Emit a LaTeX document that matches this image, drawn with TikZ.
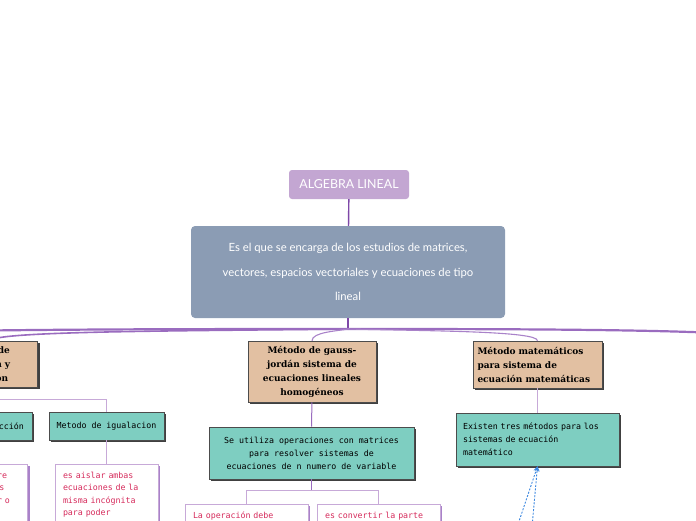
\documentclass[tikz,border=0pt]{standalone}
\usepackage{fontspec}
\setmainfont{Lato}
\newfontfamily\topicfont{DejaVu Serif}
\newfontfamily\pixfont{DejaVu Sans Mono}
\usepackage{xcolor}
\usepackage{tikz}
\usetikzlibrary{arrows.meta, positioning, shadows}
\definecolor{rootlilac}{HTML}{C3A6D2}
\definecolor{centralslate}{HTML}{8B9CB4}
\definecolor{topicpeach}{HTML}{E2C0A2}
\definecolor{subteal}{HTML}{7ECEC1}
\definecolor{branchpurple}{HTML}{9A6CBF}
\definecolor{trunkpurple}{HTML}{7E48A8}
\definecolor{linklilac}{HTML}{C7A9D8}
\definecolor{notered}{HTML}{D62B5C}
\definecolor{relblue}{HTML}{3A86DF}
\tikzstyle{root} = [rectangle, rounded corners=3pt, fill=rootlilac, text=white, minimum width=120pt, minimum height=29pt, font=\fontsize{12.4}{14}\selectfont]
\tikzstyle{central} = [rectangle, rounded corners=4pt, fill=centralslate, text=white, align=center, minimum width=314pt, minimum height=92pt, font=\fontsize{11.3}{24.5}\selectfont]
\tikzstyle{topic} = [rectangle, draw=black!70, line width=0.6pt, fill=topicpeach, drop shadow={shadow xshift=1.8pt, shadow yshift=-1.8pt, fill=black!75, opacity=1}, font=\topicfont\bfseries\fontsize{9}{14}\selectfont]
\tikzstyle{subtopic} = [rectangle, draw=black!70, line width=0.6pt, fill=subteal, drop shadow={shadow xshift=1.8pt, shadow yshift=-1.8pt, fill=black!75, opacity=1}, font=\pixfont\fontsize{8.3}{13}\selectfont]
\tikzstyle{note} = [rectangle, draw=linklilac, line width=0.8pt, fill=white, text=notered, align=left, inner xsep=8pt, inner ysep=7.5pt, text depth=45pt, drop shadow={shadow xshift=2pt, shadow yshift=-2pt, fill=branchpurple!85, opacity=1}, font=\pixfont\fontsize{8.3}{12.5}\selectfont]
\tikzstyle{trunk} = [draw=trunkpurple, line width=1.4pt]
\tikzstyle{branch} = [draw=branchpurple, line width=2.2pt]
\tikzstyle{twig} = [draw=branchpurple!85, line width=1.1pt]
\tikzstyle{link} = [draw=linklilac, line width=1pt]
\tikzstyle{relation} = [draw=relblue, line width=0.9pt, dash pattern=on 2pt off 1.5pt, -{Stealth[length=5pt, width=5pt]}]

\begin{document}
\begin{tikzpicture}[x=1pt, y=-1pt]

\useasboundingbox (0,0) rectangle (696,520);
\clip (0,0) rectangle (696,520);

% ===== ROOT =====
\node (algebra) [root] at (349, 184.5) {ALGEBRA LINEAL};
\node (desc) [central] at (348, 272) {Es el que se encarga de los estudios de matrices,\\vectores, espacios vectoriales y ecuaciones de tipo\\lineal};
\coordinate (hub) at (348, 329);

% ===== TOPICS =====
\node (lefttopic) [topic, anchor=north east, text width=78pt, inner xsep=8pt, minimum height=46pt, align=left] at (38, 341) {Métodos de\\reducción y\\sustitución};
\node (gauss) [topic, align=center, minimum width=128pt, minimum height=61pt] at (312, 371.5) {Método de gauss-\\jordán sistema de\\ecuaciones lineales\\homogéneos};
\node (matem) [topic, align=left, text width=120pt, inner xsep=4.5pt, minimum height=47pt] at (537.5, 364.5) {Método matemáticos\\para sistema de\\ecuación matemáticas};
\coordinate (farleft) at (-220, 341);
\coordinate (farright) at (780, 341);

% ===== SUBTOPICS =====
\node (reduccion) [subtopic, minimum width=111pt, minimum height=28pt] at (-23.5, 426) {Metodo de reducción};
\node (igualacion) [subtopic, minimum width=115pt, minimum height=28pt] at (106.5, 426) {Metodo de igualacion};
\node (gausstext) [subtopic, align=center, minimum width=205pt, minimum height=52pt] at (311.5, 453) {Se utiliza operaciones con matrices\\para resolver sistemas de\\ecuaciones de n numero de variable};
\node (existen) [subtopic, align=left, text width=149pt, inner xsep=7pt, minimum height=53pt] at (537.5, 439.5) {Existen tres métodos para los\\sistemas de ecuación\\matemático};

% ===== NOTES =====
\node (reducnote) [note, anchor=north east, text width=83pt] at (28, 464) {se suma siempre\\las incógnitas\\y luego restar o};
\node (aislar) [note, anchor=north, text width=87pt] at (106.5, 464) {es aislar ambas\\ecuaciones de la\\misma incógnita\\para poder};
\node (operacion) [note, anchor=north, text width=107pt] at (246.5, 504) {La operación debe};
\node (convertir) [note, anchor=north, text width=107pt] at (378.5, 504) {es convertir la parte};
\coordinate (relsrcA) at (506, 560);
\coordinate (relsrcB) at (529, 560);

% ===== CONNECTORS =====
\draw [trunk] (algebra) -- (desc);
\draw [trunk, line width=2pt] (desc.south) -- (hub);
\draw [branch] (hub) .. controls (150, 329) and (-220, 329) .. (farleft);
\draw [branch, line width=1.6pt] (hub) .. controls (180, 331) and (-10, 331) .. (lefttopic.north);
\draw [branch] (hub) .. controls (520, 329) and (780, 329) .. (farright);
\draw [twig] (hub) .. controls (338, 331) and (312, 332) .. (gauss.north);
\draw [twig] (hub) .. controls (430, 331) and (537.5, 331) .. (matem.north);

% topics to subtopics
\draw [link] (lefttopic.south) -- ++(0, 12) -| (igualacion.north);
\draw [link] (lefttopic.south) -- ++(0, 12) -| (reduccion.north);
\draw [link, draw=branchpurple] (gauss) -- (gausstext);
\draw [link] (matem) -- (existen);

% subtopics to notes
\draw [link] (reduccion.south) -- (reduccion.south |- reducnote.north);
\draw [link] (igualacion) -- (aislar);
\draw [link, draw=branchpurple] (gausstext.south) -- ++(0, 11) coordinate (split);
\draw [link] (split) -| (operacion.north);
\draw [link] (split) -| (convertir.north);

% relations
\draw [relation] (relsrcA) -- (existen.south);
\draw [relation] (relsrcB) -- (existen.south);

\end{tikzpicture}
\end{document}
